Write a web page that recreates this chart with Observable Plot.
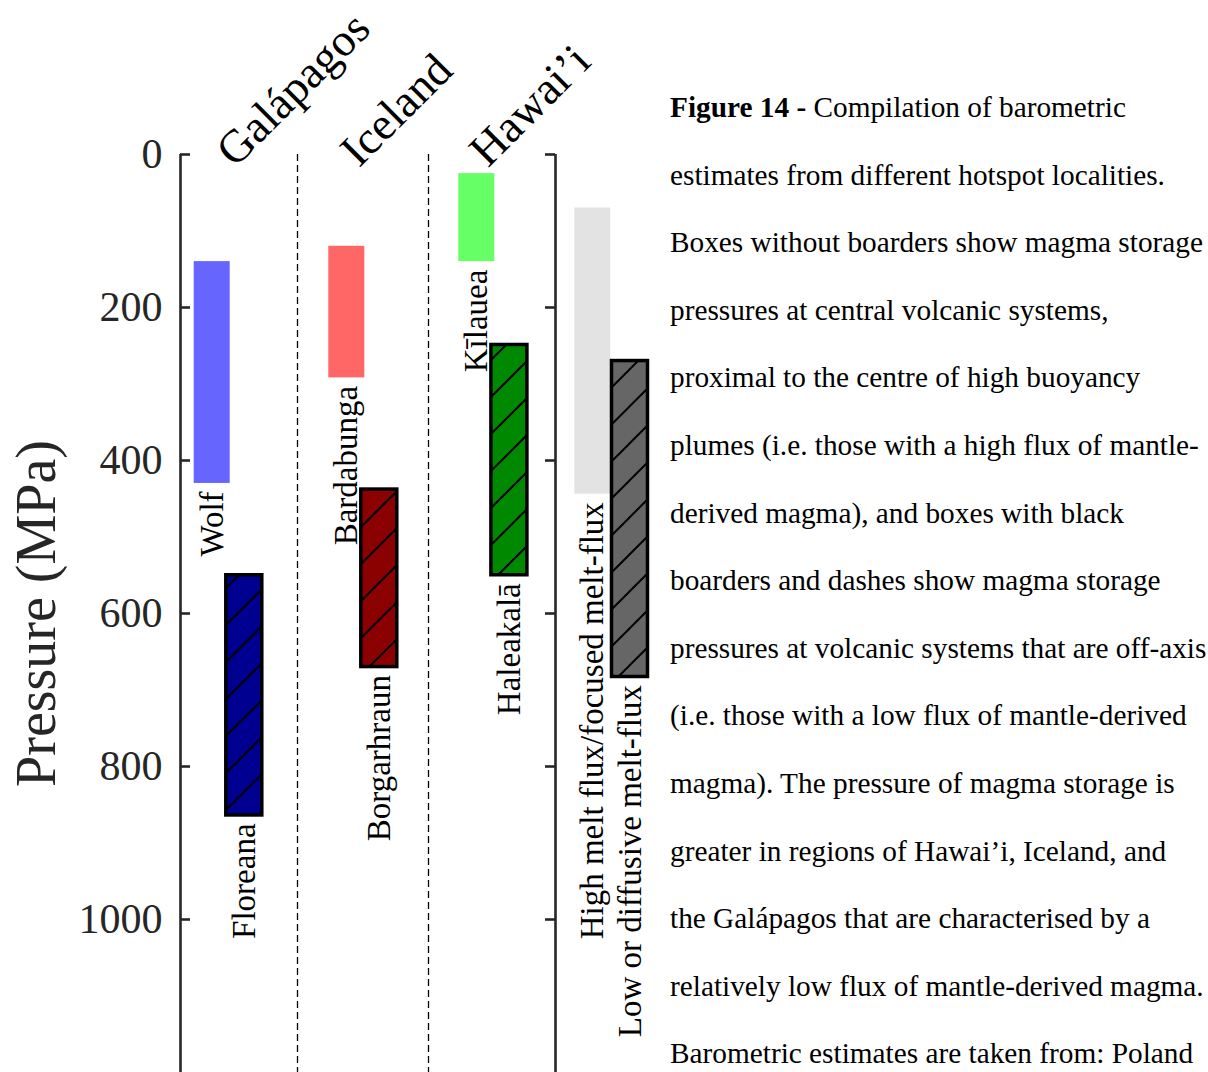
<!DOCTYPE html>
<html><head><meta charset="utf-8">
<script src="https://cdn.jsdelivr.net/npm/d3@7"></script>
<script src="https://cdn.jsdelivr.net/npm/@observablehq/plot@0.6"></script>
<style>
html,body{margin:0;padding:0;background:#fff;}
#wrap{position:relative;width:1208px;height:1072px;overflow:hidden;background:#fff;}
#chart{position:absolute;left:0;top:0;}
#caption{position:absolute;left:670px;top:74px;font-family:"Liberation Serif","Times New Roman",serif;font-size:29.3px;line-height:67.6px;color:#000;white-space:nowrap;}
</style></head>
<body><div id="wrap"><div id="chart"></div><div id="caption"></div></div>
<script>
// ---- data ----
const sites = ["Wolf", "Floreana", "Bardabunga", "Borgarhraun", "Kīlauea", "Haleakalā",
  "High melt flux/focused melt-flux", "Low or diffusive melt-flux"];
const siteRegion = ["Galápagos", "Galápagos", "Iceland", "Iceland", "Hawai’i", "Hawai’i", "Legend", "Legend"];
const pressureMin = [140, 550, 120, 438, 25, 249, 70, 270];
const pressureMax = [430, 864, 292, 670, 140, 550, 444, 683];
const meltFlux = ["high", "low", "high", "low", "high", "low", "high", "low"];
const boxColors = ["#6666ff", "#000090", "#ff6666", "#8b0000", "#66ff66", "#008800", "#e3e3e3", "#666666"];
const regionNames = ["Galápagos", "Iceland", "Hawai’i"];
const yTicks = [0, 200, 400, 600, 800, 1000];
const yLabel = "Pressure (MPa)";
const captionBold = "Figure 14 -";
const captionLines = [
  " Compilation of barometric",
  "estimates from different hotspot localities.",
  "Boxes without boarders show magma storage",
  "pressures at central volcanic systems,",
  "proximal to the centre of high buoyancy",
  "plumes (i.e. those with a high flux of mantle-",
  "derived magma), and boxes with black",
  "boarders and dashes show magma storage",
  "pressures at volcanic systems that are off-axis",
  "(i.e. those with a low flux of mantle-derived",
  "magma). The pressure of magma storage is",
  "greater in regions of Hawai’i, Iceland, and",
  "the Galápagos that are characterised by a",
  "relatively low flux of mantle-derived magma.",
  "Barometric estimates are taken from: Poland"
];

// ---- layout (horizontal units = px from left axis) ----
const boxCenter = [31.7, 63.8, 166.3, 198.8, 296.3, 328.9, 412.3, 449.5];
const regionBounds = [0, 117, 248, 375];
const boxHalf = 18;
const pxPerMPa = 918 / 1200;

const boxes = sites.map((s, i) => ({
  site: s, region: siteRegion[i], p1: pressureMin[i], p2: pressureMax[i],
  flux: meltFlux[i], color: boxColors[i], cx: boxCenter[i]
}));
const lowBoxes = boxes.filter(d => d.flux === "low");
const regionLabels = regionNames.map((r, i) => ({
  name: r, x: (regionBounds[i] + regionBounds[i + 1]) / 2 - 4
}));
const axisColor = "#262626";

const hatchDefs = () => {
  const defs = d3.create("svg:defs");
  const p = defs.append("pattern").attr("id", "hatch")
    .attr("patternUnits", "userSpaceOnUse").attr("width", 37).attr("height", 37);
  p.append("path").attr("d", "M0,37L37,0M-5,5L5,-5M32,42L42,32")
    .attr("stroke", "#000").attr("stroke-width", 2).attr("fill", "none");
  return defs.node();
};

const chart = Plot.plot({
  width: 660, height: 1072,
  marginLeft: 180, marginRight: 0, marginTop: 154, marginBottom: 0,
  style: {fontFamily: "Liberation Serif, Times New Roman, serif", background: "white", overflow: "visible"},
  x: {type: "linear", domain: [0, 480], axis: null},
  y: {domain: [0, 1200], reverse: true, axis: null},
  color: {type: "identity"},
  marks: [
    hatchDefs,
    Plot.ruleX([regionBounds[1], regionBounds[2]], {y1: 0, y2: 1200, stroke: "#000", strokeWidth: 1.3, strokeDasharray: "7,4"}),
    Plot.rect(boxes, {x1: d => d.cx - boxHalf, x2: d => d.cx + boxHalf, y1: "p1", y2: "p2", fill: "color"}),
    Plot.rect(lowBoxes, {x1: d => d.cx - boxHalf, x2: d => d.cx + boxHalf, y1: "p1", y2: "p2",
      fill: "url(#hatch)", stroke: "#000", strokeWidth: 3.5}),
    Plot.ruleX([regionBounds[0], regionBounds[3]], {y1: 0, y2: 1200, stroke: axisColor, strokeWidth: 2.6}),
    Plot.ruleY(yTicks, {y: d => d, x1: regionBounds[0], x2: regionBounds[0] + 10, stroke: axisColor, strokeWidth: 2.6}),
    Plot.ruleY(yTicks, {y: d => d, x1: regionBounds[3] - 10, x2: regionBounds[3], stroke: axisColor, strokeWidth: 2.6}),
    Plot.text(yTicks, {y: d => d, x: regionBounds[0], text: d => String(d), dx: -18, textAnchor: "end",
      fontSize: 42, fill: axisColor}),
    Plot.text([yLabel], {x: -143, y: 600, text: d => d, rotate: -90, fontSize: 56, fill: axisColor}),
    Plot.text(boxes, {x: "cx", y: d => d.p2 + 8 / pxPerMPa, text: "site", rotate: -90, textAnchor: "end",
      fontSize: 33, fill: "#000"}),
    Plot.text(regionLabels, {x: "x", y: 14 / pxPerMPa, text: "name", rotate: -45, textAnchor: "start",
      lineAnchor: "bottom", fontSize: 46, fill: "#000"})
  ]
});
document.getElementById("chart").appendChild(chart);

const cap = d3.select("#caption");
captionLines.forEach((line, i) => {
  const div = cap.append("div");
  if (i === 0) div.append("b").text(captionBold);
  div.append("span").text(line);
});
</script>
</body></html>
